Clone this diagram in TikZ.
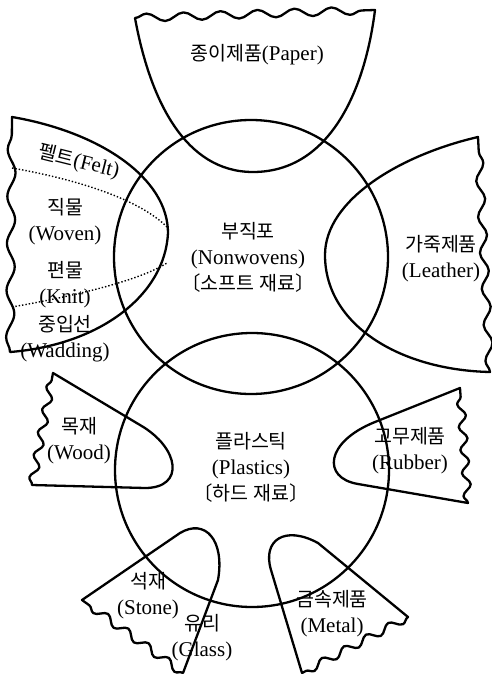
\documentclass[tikz,border=0pt]{standalone}
\usepackage{fontspec}
\setmainfont{Liberation Serif}
\newfontfamily\kr{Noto Sans CJK KR}
\usepackage{tikz}
\usetikzlibrary{decorations.pathmorphing}
\tikzset{
  outline/.style={line width=2.3pt, line join=round},
  wavy/.style={decoration={snake, amplitude=4pt, segment length=#1}},
  hint/.style={line width=1.4pt, dotted},
  tag/.style={align=center, font=\fontsize{21}{26}\selectfont, inner sep=0pt}
}
\newcommand{\ktxt}[1]{{\kr\fontsize{19.5}{26}\selectfont #1}}

\begin{document}
\begin{tikzpicture}[x=1pt, y=-1pt]
  \useasboundingbox (0,0) rectangle (492,674);
  % the two main circles
  \draw[outline] (251,257) circle[radius=137pt];
  \draw[outline] (252,470) circle[radius=137pt];
  % paper
  \draw[outline] (135,18) decorate[wavy=37pt]{-- (375,10)}
    .. controls (365,90) and (330,172) .. (253,172)
    .. controls (185,172) and (150,100) .. (135,18) -- cycle;
  % textiles
  \draw[outline] (10,352) decorate[wavy=47pt]{-- (12,117)}
    .. controls (100,132) and (168,178) .. (168,233)
    .. controls (165,295) and (100,345) .. (10,352) -- cycle;
  \draw[hint] (12,168) .. controls (80,180) and (140,200) .. (167,227);
  \draw[hint] (12,307) .. controls (80,295) and (140,280) .. (167,263);
  % leather
  \draw[outline] (490,372) decorate[wavy=36pt]{-- (478,137)}
    .. controls (400,155) and (325,200) .. (325,255)
    .. controls (325,325) and (400,370) .. (490,372) -- cycle;
  % wood
  \draw[outline] (32,485) decorate[wavy=23pt]{-- (53,373)}
    -- (140,425) .. controls (180,448) and (185,488) .. (145,488)
    -- (32,485) -- cycle;
  % rubber
  \draw[outline] (468,503) decorate[wavy=23pt]{-- (460,388)}
    -- (375,422) .. controls (325,442) and (322,478) .. (358,484)
    -- (468,503) -- cycle;
  % stone / glass
  \draw[outline] (183,673) decorate[wavy=25pt]{-- (82,600)}
    -- (180,533) .. controls (205,518) and (225,540) .. (218,580)
    -- (183,673) -- cycle;
  % metal
  \draw[outline] (408,617) decorate[wavy=25pt]{-- (302,673)}
    -- (271,570) .. controls (262,540) and (285,525) .. (318,543)
    -- (408,617) -- cycle;

  \node[tag] (paper) at (257,55) {\ktxt{종이제품}(Paper)};
  \node[tag, rotate=-14] (felt) at (79,162) {\ktxt{펠트}(Felt)};
  \node[tag] (woven) at (65,222) {\ktxt{직물}\\(Woven)};
  \node[tag] (knit) at (65,285) {\ktxt{편물}\\(Knit)};
  \node[tag] (wadding) at (65,339) {\ktxt{중입선}\\(Wadding)};
  \node[tag] (nonwovens) at (248,257) {\ktxt{부직포}\\(Nonwovens)\\\ktxt{〔소프트 재료〕}};
  \node[tag] (leather) at (441,259) {\ktxt{가죽제품}\\(Leather)};
  \node[tag] (wood) at (79,441) {\ktxt{목재}\\(Wood)};
  \node[tag] (plastics) at (251,467) {\ktxt{플라스틱}\\(Plastics)\\\ktxt{〔하드 재료〕}};
  \node[tag] (rubber) at (410,451) {\ktxt{고무제품}\\(Rubber)};
  \node[tag] (stone) at (148,596) {\ktxt{석재}\\(Stone)};
  \node[tag] (glass) at (202,638) {\ktxt{유리}\\(Glass)};
  \node[tag] (metal) at (332,614) {\ktxt{금속제품}\\(Metal)};
\end{tikzpicture}
\end{document}
